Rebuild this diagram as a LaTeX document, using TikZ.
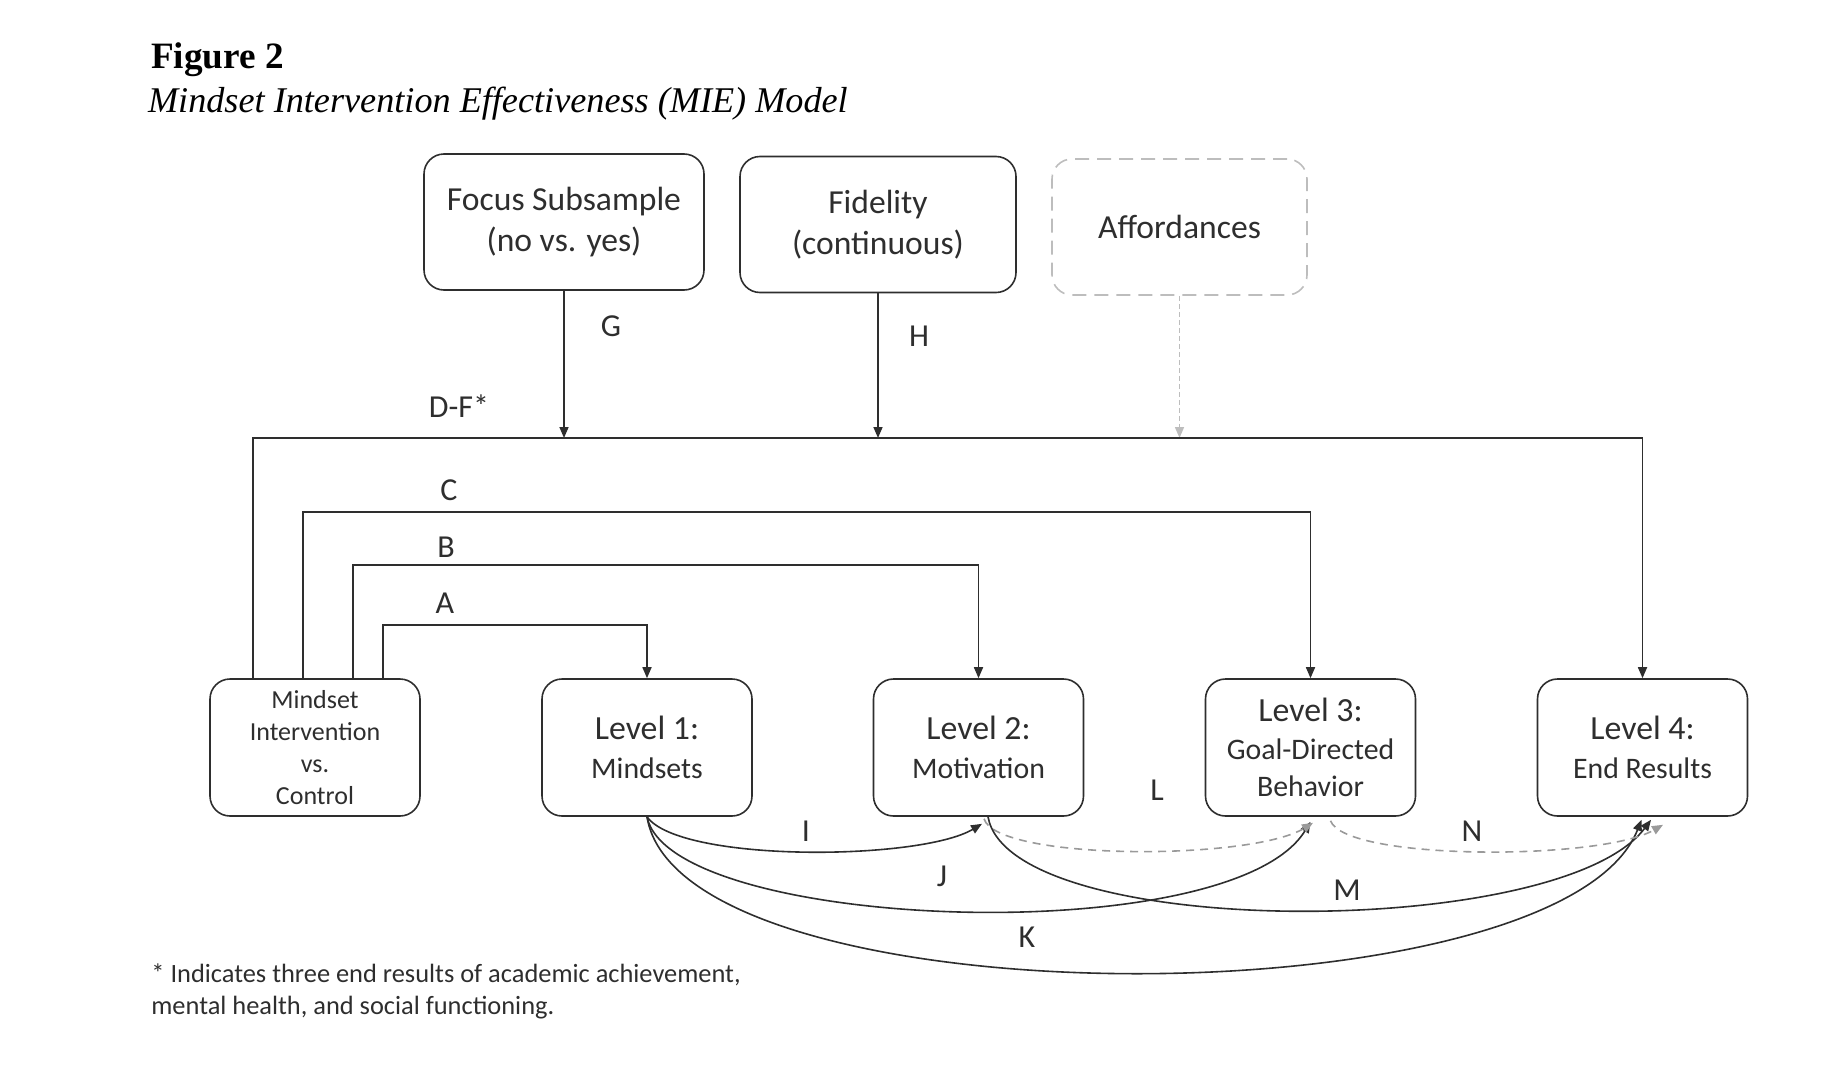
\documentclass[tikz,border=0pt]{standalone}
\usepackage{fontspec}
\setmainfont{Carlito}
\newfontfamily\timesfont{Liberation Serif}
\usetikzlibrary{arrows.meta}
\definecolor{ink}{HTML}{2E2E2E}
\definecolor{dashgray}{HTML}{9A9A9A}
\definecolor{lightgray}{HTML}{BDBDBD}
\tikzset{
  every node/.style={text=ink},
  box/.style={draw=ink, line width=0.8pt, rounded corners=10pt, align=center, inner sep=0pt},
  topbox/.style={box, minimum height=68pt, font=\fontsize{16.8}{20.6}\selectfont},
  levelbox/.style={box, minimum width=105pt, minimum height=68.5pt, font=\fontsize{16.9}{19.4}\selectfont},
  path label/.style={font=\fontsize{16}{19}\selectfont},
  link/.style={draw=ink, line width=0.8pt, -{Triangle[length=5.5pt,width=4.5pt]}},
  weak/.style={link, draw=dashgray, dash pattern=on 4pt off 3pt},
}
\newcommand{\sublabel}[1]{{\fontsize{14.9}{18}\selectfont #1}}

\begin{document}
\begin{tikzpicture}[x=0.5pt,y=-0.5pt]
\useasboundingbox (0,0) rectangle (1846,1076);
\def\ylow{747.5};

\node[anchor=west, text=black, font=\timesfont\bfseries\fontsize{18.6}{22}\selectfont] (fig) at (144,60) {Figure 2};
\node[anchor=west, text=black, font=\timesfont\itshape\fontsize{18.1}{22}\selectfont] (title) at (141,104) {Mindset Intervention Effectiveness (MIE) Model};

\node[topbox, minimum width=140pt] (focus) at (564,222) {Focus Subsample\\(no vs. yes)};
\node[topbox, minimum width=138pt] (fidelity) at (878,224.5) {Fidelity\\(continuous)};
\node[topbox, minimum width=127.5pt, draw=lightgray, dash pattern=on 7pt off 4pt] (afford) at (1179.5,227) {Affordances};

\node[levelbox, font=\fontsize{13}{15.9}\selectfont] (mic) at (315,\ylow) {Mindset\\Intervention\\vs.\\Control};
\node[levelbox] (lone) at (647,\ylow) {Level 1:\\\sublabel{Mindsets}};
\node[levelbox] (ltwo) at (978.5,\ylow) {Level 2:\\\sublabel{Motivation}};
\node[levelbox, font=\fontsize{16.9}{18.6}\selectfont] (lthree) at (1310.5,\ylow) {Level 3:\\\sublabel{Goal-Directed}\\\sublabel{Behavior}};
\node[levelbox] (lfour) at (1642.5,\ylow) {Level 4:\\\sublabel{End Results}};

\coordinate (dline) at (0,438);
\coordinate (cline) at (0,512);
\coordinate (bline) at (0,565);
\coordinate (aline) at (0,625);

\draw[link] (focus) -- (focus |- dline);
\draw[link] (fidelity) -- (fidelity |- dline);
\draw[link, draw=lightgray, dash pattern=on 2.5pt off 1.5pt] (afford) -- (afford |- dline);
\node[path label] (labg) at (611,326) {G};
\node[path label] (labh) at (919,336) {H};

\draw[link] ([xshift=-31pt]mic.north) |- (lfour.north |- dline) -- (lfour.north);
\draw[link] ([xshift=-6pt]mic.north) |- (lthree.north |- cline) -- (lthree.north);
\draw[link] ([xshift=19pt]mic.north) |- (ltwo.north |- bline) -- (ltwo.north);
\draw[link] ([xshift=34pt]mic.north) |- (lone.north |- aline) -- (lone.north);
\node[path label] (labdf) at (459,406) {D-F*};
\node[path label] (labc) at (449,490) {C};
\node[path label] (labb) at (446,547) {B};
\node[path label] (laba) at (445,603) {A};

\draw[link] (lone.south) .. controls +(33,46) and +(-62,37) .. ([shift={(1.75pt,-3.5pt)}]ltwo.south);
\draw[link] (lone.south) .. controls +(23,114) and +(-80,130) .. ([yshift=-2.5pt]lthree.south);
\draw[link] (lone.south) .. controls +(33,207) and +(-81,204) .. ([shift={(-0.5pt,-1.5pt)}]lfour.south);
\draw[weak] ([shift={(2.75pt,-1pt)}]ltwo.south) .. controls +(13,42) and +(-62,38) .. ([shift={(1.25pt,-3pt)}]lthree.south);
\draw[link] ([xshift=4.75pt]ltwo.south) .. controls +(22,124) and +(-91,121) .. ([shift={(4.25pt,-1.5pt)}]lfour.south);
\draw[weak] ([shift={(10pt,-2pt)}]lthree.south) .. controls +(15,40) and +(-63,36) .. ([shift={(10.25pt,-4pt)}]lfour.south);
\node[path label] (labi) at (806,831) {I};
\node[path label] (labj) at (942,876) {J};
\node[path label] (labk) at (1027,937) {K};
\node[path label] (labl) at (1157,790) {L};
\node[path label] (labm) at (1347,890) {M};
\node[path label] (labn) at (1472,831) {N};

\node[anchor=north west, align=left, inner sep=0pt, font=\fontsize{13.2}{16}\selectfont] (note) at (151,963) {* Indicates three end results of academic achievement,\\mental health, and social functioning.};
\end{tikzpicture}
\end{document}
